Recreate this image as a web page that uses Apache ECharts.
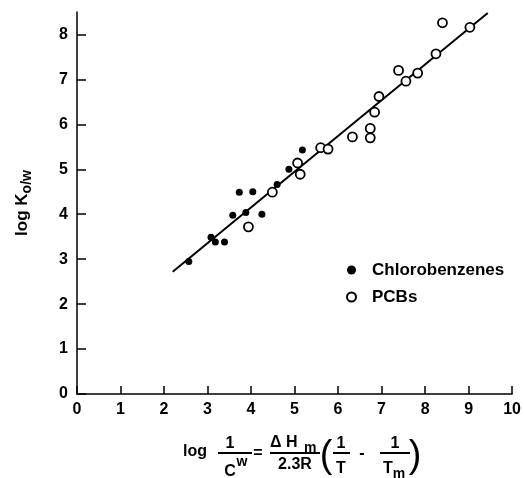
<!DOCTYPE html>
<html>
<head>
<meta charset="utf-8">
<script src="https://cdn.jsdelivr.net/npm/echarts@6/dist/echarts.min.js"></script>
<style>
html,body{margin:0;padding:0;background:#fff;}
#c{width:524px;height:478px;}
</style>
</head>
<body>
<div id="c"></div>
<script>
// Data
var chloroX = [2.57, 3.08, 3.18, 3.39, 3.58, 3.73, 3.88, 4.04, 4.25, 4.60, 4.87, 5.18];
var chloroY = [2.95, 3.49, 3.38, 3.38, 3.98, 4.49, 4.04, 4.50, 4.00, 4.66, 5.00, 5.43];
var pcbX = [3.94, 4.49, 5.07, 5.13, 5.60, 5.77, 6.33, 6.74, 6.74, 6.84, 6.94, 7.39, 7.56, 7.83, 8.25, 8.40, 9.03];
var pcbY = [3.72, 4.49, 5.14, 4.89, 5.48, 5.45, 5.72, 5.91, 5.70, 6.27, 6.62, 7.20, 6.96, 7.14, 7.57, 8.26, 8.16];
var fitX = [2.20, 9.44];
var fitY = [2.72, 8.48];
var xTicks = [0, 1, 2, 3, 4, 5, 6, 7, 8, 9, 10];
var yTicks = [0, 1, 2, 3, 4, 5, 6, 7, 8];
var seriesNames = ['Chlorobenzenes', 'PCBs'];

function zip(a, b) { return a.map(function (v, i) { return [v, b[i]]; }); }

var FONT = '"Liberation Sans", Arial, Helvetica, sans-serif';
var chart = echarts.init(document.getElementById('c'), null, { renderer: 'canvas' });

function t(text, x, y, size, align, weight) {
  return {
    type: 'text', silent: true,
    style: {
      text: text, x: x, y: y,
      font: (weight || 'bold') + ' ' + size + 'px ' + FONT,
      textAlign: align || 'center', textVerticalAlign: 'middle', fill: '#000'
    }
  };
}
function bar(x1, x2, y) {
  return { type: 'line', silent: true, shape: { x1: x1, y1: y, x2: x2, y2: y }, style: { stroke: '#000', lineWidth: 2 } };
}

var formula = [
  t('log', 183, 452, 16, 'left'),
  t('1', 230, 444, 16), bar(218, 252, 453),
  t('C', 230, 472, 16), t('w', 242, 462, 14),
  t('=', 258, 454, 16),
  t('\u0394 H', 270, 443, 16, 'left'), t('m', 304, 448, 14, 'left'), bar(270, 320, 453),
  t('2.3R', 295, 465, 16),
  t('(', 326, 457, 38, 'center', 'normal'),
  t('1', 341, 444, 16), bar(333, 350, 453), t('T', 341, 469, 16),
  t('-', 362, 454, 16),
  t('1', 395, 444, 16), bar(380, 410, 453), t('T', 388, 469, 16), t('m', 399, 474, 14),
  t(')', 415, 457, 38, 'center', 'normal')
];

chart.setOption({
  backgroundColor: '#fff',
  animation: false,
  textStyle: { fontFamily: FONT },
  grid: { left: 77, right: 11, top: 12, bottom: 84, containLabel: false },
  legend: {
    orient: 'vertical', left: 341, top: 256, padding: 5,
    itemWidth: 9, itemHeight: 9, itemGap: 9,
    data: seriesNames,
    textStyle: { fontFamily: FONT, fontWeight: 'bold', fontSize: 17, color: '#000', padding: [0, 0, 0, 11], lineHeight: 18 }
  },
  xAxis: {
    type: 'value', min: 0, max: 10, interval: 1,
    splitLine: { show: false },
    axisLine: { lineStyle: { color: '#000', width: 1.5 } },
    axisTick: { inside: true, length: 8, lineStyle: { color: '#000', width: 1.5 }, customValues: xTicks },
    axisLabel: { margin: 8, color: '#000', fontSize: 16, fontWeight: 'bold', fontFamily: FONT, customValues: xTicks }
  },
  yAxis: {
    type: 'value', min: 0, max: 8.5, interval: 1,
    name: '{a|log K}{b|o/w}',
    nameLocation: 'middle', nameRotate: 90, nameGap: 43,
    nameTextStyle: {
      rich: {
        a: { fontSize: 17, fontWeight: 'bold', fontFamily: FONT, color: '#000' },
        b: { fontSize: 14, fontWeight: 'bold', fontFamily: FONT, color: '#000', padding: [9, 0, 0, 0] }
      }
    },
    splitLine: { show: false },
    axisLine: { lineStyle: { color: '#000', width: 1.5 } },
    axisTick: { inside: true, length: 9, lineStyle: { color: '#000', width: 1.5 }, customValues: yTicks },
    axisLabel: { margin: 9, color: '#000', fontSize: 16, fontWeight: 'bold', fontFamily: FONT, customValues: yTicks }
  },
  graphic: formula,
  series: [
    {
      name: 'fit', type: 'line', data: zip(fitX, fitY), symbol: 'none', z: 1,
      lineStyle: { color: '#000', width: 2 }, silent: true
    },
    {
      name: seriesNames[0], type: 'scatter', data: zip(chloroX, chloroY), z: 3,
      symbol: 'circle', symbolSize: 7,
      itemStyle: { color: '#000', opacity: 1 }
    },
    {
      name: seriesNames[1], type: 'scatter', data: zip(pcbX, pcbY), z: 3,
      symbol: 'circle', symbolSize: 9,
      itemStyle: { color: '#fff', borderColor: '#000', borderWidth: 1.8, opacity: 1 }
    }
  ]
});
</script>
</body>
</html>
